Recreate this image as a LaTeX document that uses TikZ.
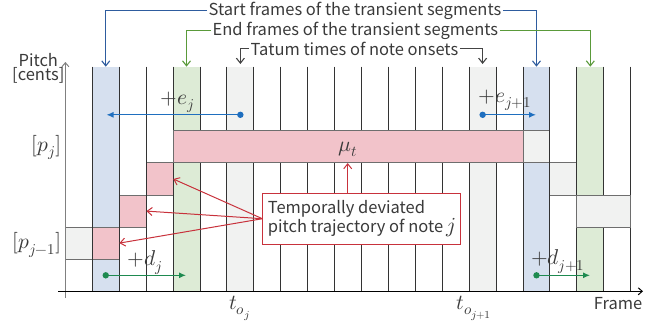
\documentclass[tikz,border=0pt]{standalone}
\usepackage{fontspec}
\usepackage{unicode-math}
\setmainfont{Noto Sans CJK JP}
\setmathfont[Scale=1.3]{Latin Modern Math}
\usetikzlibrary{arrows.meta}
\definecolor{bluec}{HTML}{D6E0EF}
\definecolor{greenc}{HTML}{DDEBD6}
\definecolor{grayc}{HTML}{F1F2F1}
\definecolor{pinkc}{HTML}{F2C3CA}
\definecolor{cellb}{HTML}{6E6E6E}
\definecolor{gridc}{HTML}{333333}
\definecolor{txt}{HTML}{3A3A3A}
\definecolor{hblue}{HTML}{2E5C9E}
\definecolor{hgreen}{HTML}{5A9A3A}
\definecolor{hgray}{HTML}{444444}
\definecolor{ablue}{HTML}{1F6FBF}
\definecolor{agreen}{HTML}{1E8A50}
\definecolor{redc}{HTML}{C8323C}
\definecolor{axisc}{HTML}{808080}
\begin{document}
\begin{tikzpicture}[x=1pt,y=-1pt,
  font=\fontsize{16.5}{18}\selectfont, text=txt,
  gridline/.style={draw=gridc, line width=0.9pt},
  notecell/.style={draw=cellb, line width=0.9pt},
  hdr/.style={line width=1.1pt, -{Straight Barb[length=5pt,width=8pt]}},
  redarrow/.style={draw=redc, line width=1pt, -{Straight Barb[length=5pt,width=8pt]}},
  dotarrow/.style={line width=1.2pt, -{Latex[length=7pt,width=6pt]}},
  lbl/.style={inner sep=1.5pt}]
\useasboundingbox (0,0) rectangle (667,322);
\foreach \i in {-1,...,20}{\foreach \k in {0,...,7}{%
  \coordinate (g\i-\k) at ({92.3+26.92*\i},{66.7+32.08*\k});}}
% column shading
\fill[bluec] (g0-0) rectangle (g1-7);
\fill[greenc] (g3-0) rectangle (g4-7);
\fill[grayc] (g5-0) rectangle (g6-7);
\fill[grayc] (g14-0) rectangle (g15-7);
\fill[bluec] (g16-0) rectangle (g17-7);
\fill[greenc] (g18-0) rectangle (g19-7);
% small note cells
\filldraw[notecell, fill=grayc] (g-1-5) rectangle (g0-6);
\filldraw[notecell, fill=pinkc] (g0-5) rectangle (g1-6);
\filldraw[notecell, fill=pinkc] (g1-4) rectangle (g2-5);
\filldraw[notecell, fill=pinkc] (g2-3) rectangle (g3-4);
\filldraw[notecell, fill=grayc] (g16-2) rectangle (g17-3);
\filldraw[notecell, fill=grayc] (g17-3) rectangle (g18-4);
% grid lines
\foreach \i in {0,...,20} \draw[gridline] (g\i-0) -- (g\i-7);
% wide note cells
\filldraw[notecell, fill=pinkc] (g3-2) rectangle (g16-3);
\filldraw[notecell, fill=grayc] (g18-4) rectangle (g20-5);
% axes
\coordinate (ya0) at (65.4,298);
\coordinate (ya1) at (65.4,62);
\coordinate (xa0) at (58,291.3);
\coordinate (xa1) at (643,291.3);
\draw[draw=axisc, line width=1pt, -{Straight Barb[length=4pt,width=7pt]}] (ya0) -- (ya1);
\draw[draw=black, line width=1pt, -{Straight Barb[length=4pt,width=7pt]}] (xa0) -- (xa1);
% axis labels
\node[inner sep=0pt, align=center, font=\fontsize{16.5}{14}\selectfont, anchor=base] (pitch) at (38.3,80.5) {Pitch\\\relax[cents]};
\node[lbl, anchor=east] (pj) at (63,147.5) {$[p_j]$};
\node[lbl, anchor=east] (pj1) at (63,245) {$[p_{j-1}]$};
\node[lbl, anchor=base east] (frame) at (644,309) {Frame};
\node[lbl, anchor=north] (toj) at (239.7,294) {$t_{o_j}$};
\node[lbl, anchor=north] (toj1) at (474.2,294) {$t_{o_{j+1}}$};
\node[lbl] (mu) at (348.3,149.5) {$\mu_t$};
% header labels
\node[lbl, anchor=base west] (startlbl) at (207,15) {Start frames of the transient segments};
\node[lbl, anchor=base west] (endlbl) at (211,35.5) {End frames of the transient segments};
\node[lbl, anchor=base west] (tatumlbl) at (249,55.5) {Tatum times of note onsets};
\coordinate (sL) at (105.76,66.7);
\coordinate (sR) at (536.48,66.7);
\coordinate (eL) at (186.52,66.7);
\coordinate (eR) at (590.32,66.7);
\coordinate (tL) at (240.36,64);
\coordinate (tR) at (482.64,64);
\draw[hdr, draw=hblue] (startlbl.west) -| (sL);
\draw[hdr, draw=hblue] (startlbl.east) -| (sR);
\draw[hdr, draw=hgreen] (endlbl.west) -| (eL);
\draw[hdr, draw=hgreen] (endlbl.east) -| (eR);
\draw[hdr, draw=hgray] (tatumlbl.west) -| (tL);
\draw[hdr, draw=hgray] (tatumlbl.east) -| (tR);
% shift arrows
\coordinate (ej0) at (240.36,114.8);
\coordinate (ej1) at (106.5,114.8);
\coordinate (ek0) at (482.64,114.8);
\coordinate (ek1) at (536,114.8);
\coordinate (dj0) at (105.76,275.3);
\coordinate (dj1) at (186,275.3);
\coordinate (dk0) at (536.48,275.3);
\coordinate (dk1) at (590,275.3);
\draw[dotarrow, draw=ablue, fill=ablue] (ej0) -- (ej1);
\fill[ablue] (ej0) circle (3.2);
\draw[dotarrow, draw=ablue, fill=ablue] (ek0) -- (ek1);
\fill[ablue] (ek0) circle (3.2);
\draw[dotarrow, draw=agreen, fill=agreen] (dj0) -- (dj1);
\fill[agreen] (dj0) circle (3.2);
\draw[dotarrow, draw=agreen, fill=agreen] (dk0) -- (dk1);
\fill[agreen] (dk0) circle (3.2);
\node[lbl] (ejl) at (177.5,102) {$+e_j$};
\node[lbl] (ekl) at (505,100.5) {$+e_{j+1}$};
\node[lbl] (djl) at (145,262.5) {$+d_j$};
\node[lbl] (dkl) at (558,261.5) {$+d_{j+1}$};
% red box and arrows
\node[draw=redc, line width=1pt, fill=white, minimum width=198pt, minimum height=50.7pt,
  align=left, inner sep=0pt, font=\fontsize{16.5}{18}\selectfont] (tbox) at (361.9,218.7)
  {Temporally deviated\\pitch trajectory of note $j$};
\coordinate (r1) at (173.3,179);
\coordinate (r2) at (146.4,211.1);
\coordinate (r3) at (119.4,243.1);
\coordinate (rmu) at (347.7,163);
\draw[redarrow] (tbox.west) -- (r1);
\draw[redarrow] (tbox.west) -- (r2);
\draw[redarrow] (tbox.west) -- (r3);
\draw[redarrow] (tbox.north -| rmu) -- (rmu);
\end{tikzpicture}
\end{document}
